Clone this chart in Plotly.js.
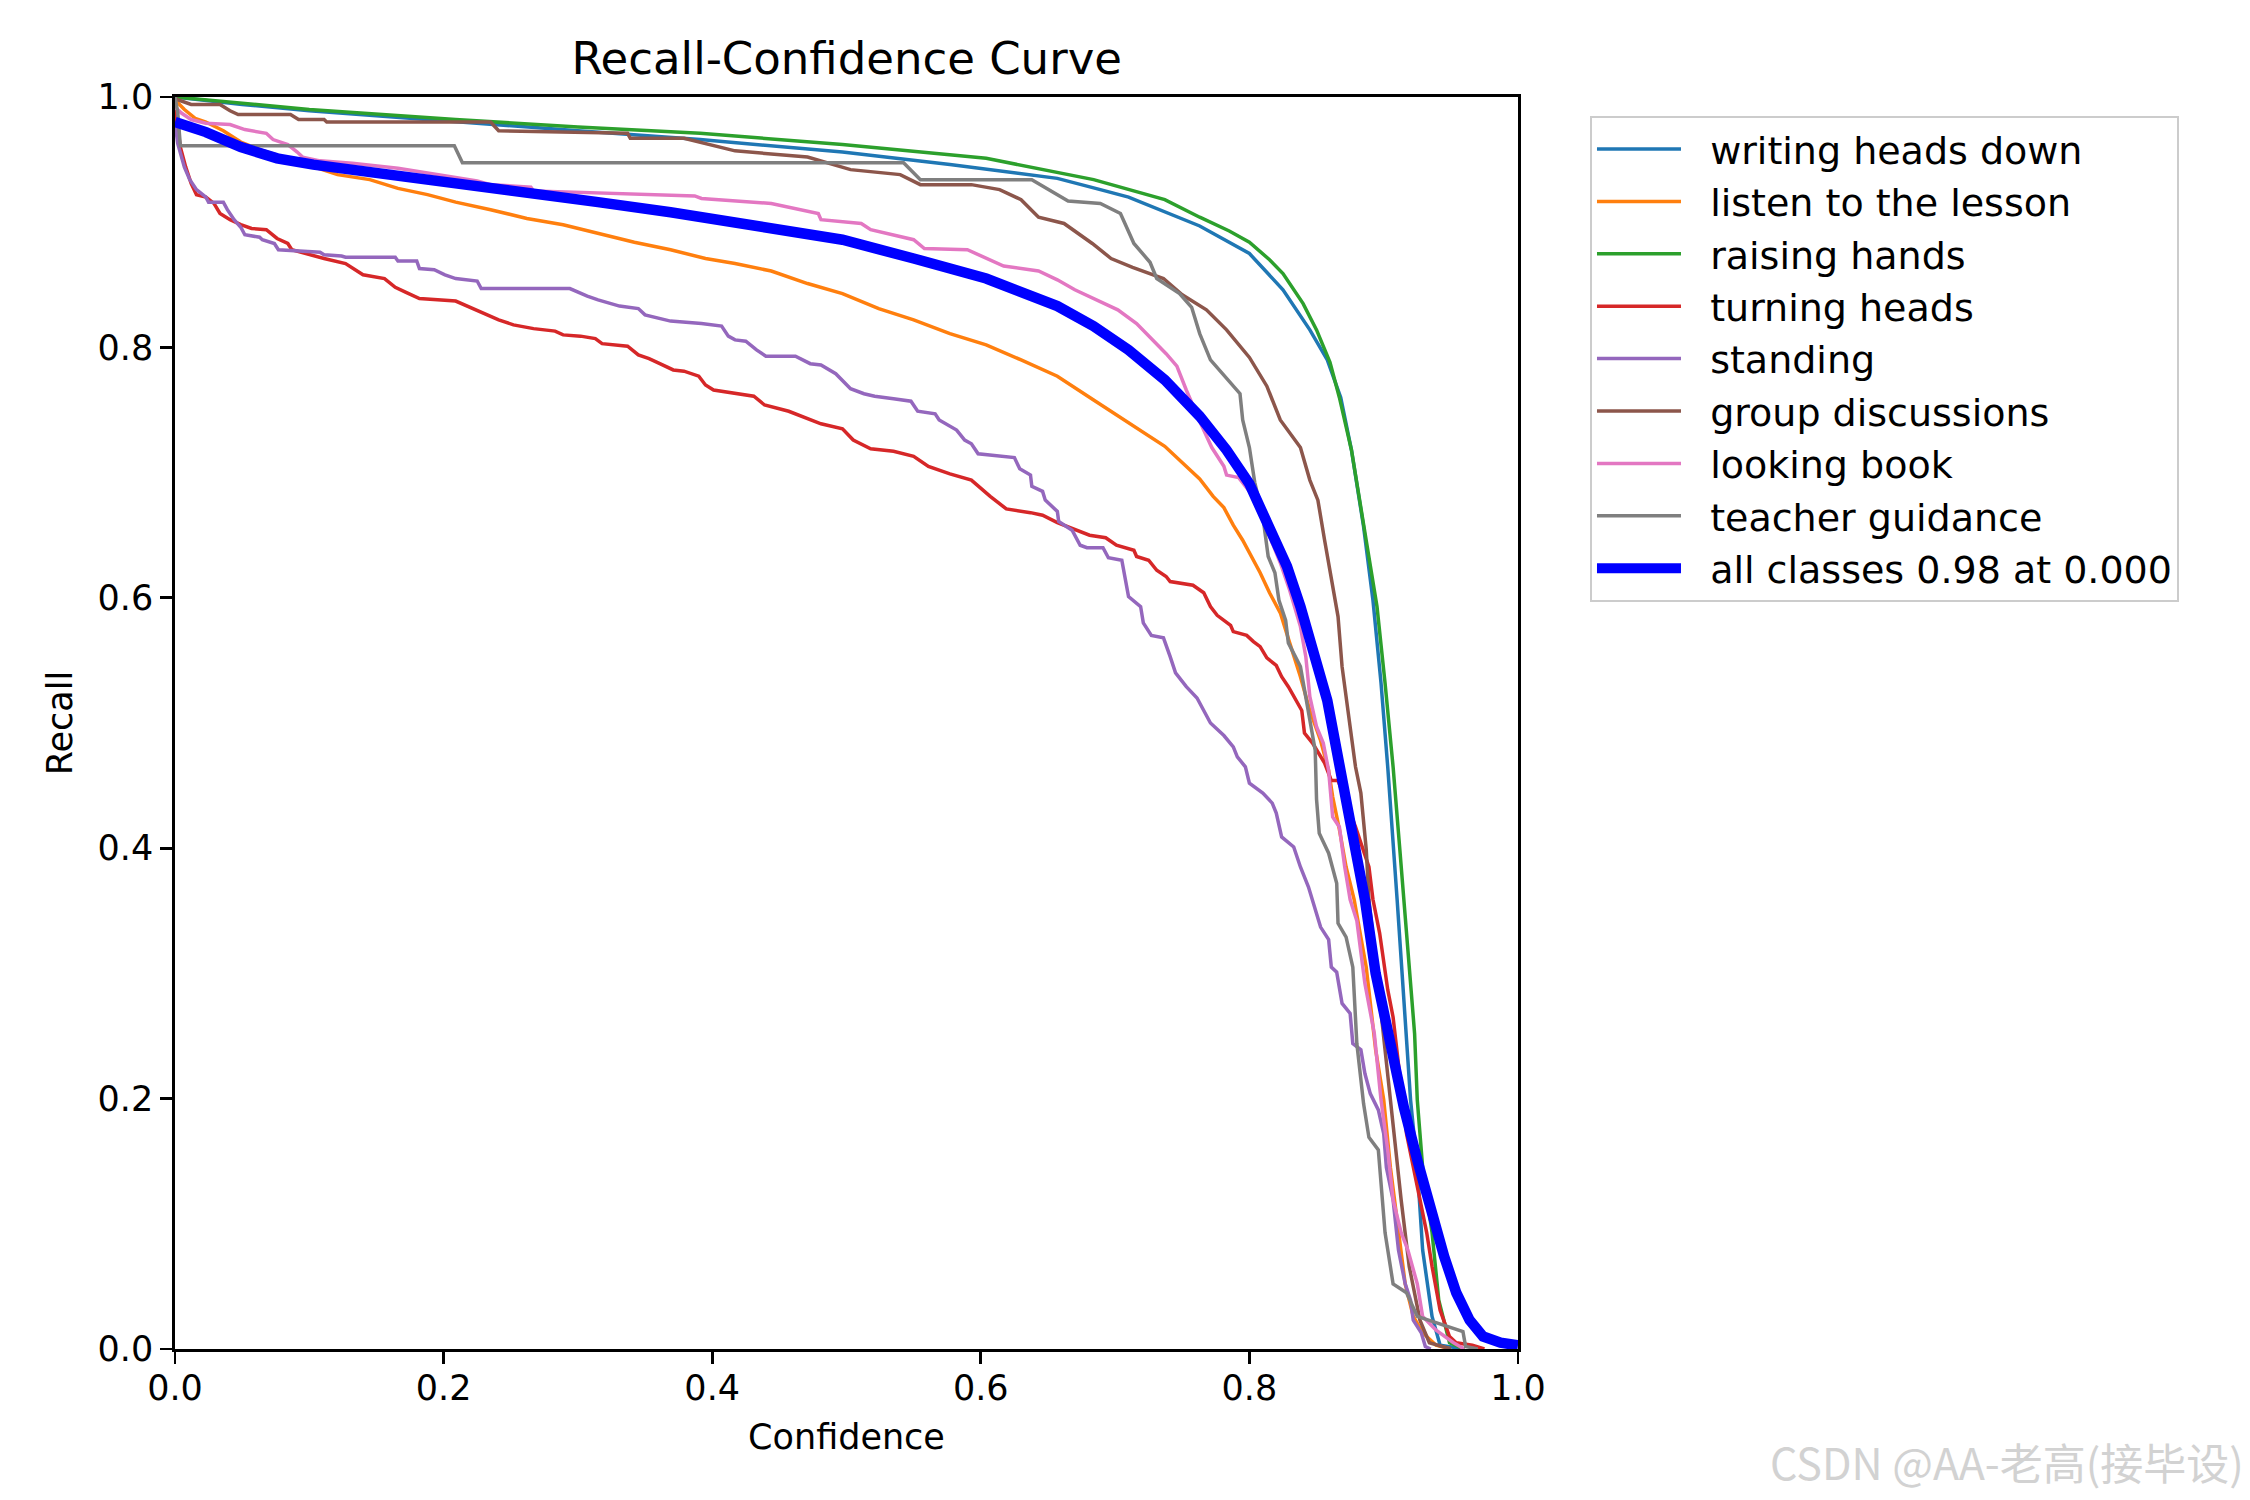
<!DOCTYPE html>
<html>
<head>
<meta charset="utf-8">
<script src="https://cdn.plot.ly/plotly-3.0.1.min.js"></script>
<style>
  html, body { margin: 0; padding: 0; background: #ffffff; }
  #chart { width: 2250px; height: 1500px; }
</style>
</head>
<body>
<div id="chart"></div>
<script>
// Recall vs confidence, one [confidence, recall] list per class
var classNames = ['writing heads down', 'listen to the lesson', 'raising hands', 'turning heads',
  'standing', 'group discussions', 'looking book', 'teacher guidance']
var classColors = ['#1f77b4', '#ff7f0e', '#2ca02c', '#d62728', '#9467bd', '#8c564b', '#e377c2', '#7f7f7f']

var writingHeadsDown = [[0,1.0],[0.05,0.994],[0.1,0.989],[0.209,0.980],[0.3,0.973],[0.391,0.966],[0.497,0.956],
  [0.577,0.946],[0.657,0.935],[0.689,0.926],[0.710,0.920],[0.763,0.897],[0.8,0.875],[0.825,0.846],[0.845,0.814],
  [0.858,0.790],[0.868,0.760],[0.876,0.718],[0.885,0.657],[0.892,0.598],[0.898,0.532],[0.903,0.465],[0.907,0.399],
  [0.910,0.359],[0.915,0.279],[0.920,0.199],[0.925,0.145],[0.929,0.079],[0.936,0.026],[0.942,0.003],[0.96,0]]

var listenToTheLesson = [[0,1.0],[0.0015,0.996],[0.007,0.990],[0.015,0.983],[0.023,0.980],[0.036,0.973],[0.049,0.964],
  [0.063,0.958],[0.081,0.952],[0.103,0.944],[0.121,0.938],[0.145,0.934],[0.166,0.927],[0.188,0.922],[0.209,0.916],
  [0.235,0.910],[0.262,0.903],[0.289,0.898],[0.315,0.891],[0.342,0.884],[0.369,0.878],[0.395,0.871],[0.417,0.867],
  [0.444,0.861],[0.471,0.851],[0.497,0.843],[0.524,0.831],[0.550,0.822],[0.577,0.811],[0.604,0.802],[0.630,0.790],
  [0.657,0.777],[0.684,0.758],[0.710,0.740],[0.737,0.721],[0.763,0.695],[0.773,0.681],[0.781,0.672],[0.788,0.658],
  [0.795,0.646],[0.803,0.630],[0.808,0.620],[0.815,0.604],[0.823,0.588],[0.830,0.564],[0.838,0.537],[0.845,0.510],
  [0.853,0.486],[0.859,0.462],[0.862,0.441],[0.867,0.415],[0.872,0.385],[0.878,0.359],[0.887,0.305],[0.894,0.239],
  [0.900,0.199],[0.905,0.145],[0.911,0.093],[0.916,0.052],[0.922,0.026],[0.929,0.013],[0.939,0.003],[0.95,0]]

var raisingHands = [[0,1.0],[0.1,0.990],[0.209,0.982],[0.3,0.976],[0.391,0.971],[0.497,0.962],[0.604,0.951],
  [0.684,0.934],[0.737,0.918],[0.763,0.904],[0.785,0.893],[0.8,0.884],[0.815,0.870],[0.825,0.859],[0.84,0.835],
  [0.85,0.814],[0.86,0.788],[0.867,0.760],[0.876,0.718],[0.885,0.657],[0.895,0.593],[0.901,0.532],[0.907,0.465],
  [0.912,0.399],[0.915,0.359],[0.923,0.252],[0.925,0.199],[0.929,0.145],[0.936,0.093],[0.941,0.039],[0.949,0.005],[0.96,0]]

var turningHeads = [[0,0.99],[0.002,0.975],[0.004,0.960],[0.008,0.944],[0.012,0.931],[0.016,0.922],[0.023,0.920],
  [0.029,0.915],[0.0335,0.907],[0.041,0.902],[0.049,0.898],[0.057,0.895],[0.068,0.894],[0.076,0.887],[0.084,0.883],
  [0.087,0.878],[0.097,0.875],[0.111,0.871],[0.127,0.867],[0.140,0.858],[0.156,0.855],[0.164,0.848],[0.172,0.844],
  [0.182,0.839],[0.209,0.837],[0.222,0.831],[0.230,0.827],[0.241,0.822],[0.252,0.818],[0.267,0.815],[0.283,0.813],
  [0.289,0.810],[0.302,0.809],[0.313,0.807],[0.318,0.803],[0.337,0.801],[0.345,0.794],[0.353,0.791],[0.361,0.787],
  [0.371,0.782],[0.379,0.781],[0.390,0.777],[0.395,0.770],[0.401,0.766],[0.431,0.761],[0.439,0.754],[0.457,0.749],
  [0.471,0.743],[0.481,0.739],[0.497,0.735],[0.505,0.726],[0.518,0.719],[0.535,0.717],[0.550,0.713],[0.561,0.705],
  [0.577,0.699],[0.593,0.694],[0.607,0.681],[0.619,0.671],[0.637,0.668],[0.646,0.666],[0.657,0.660],[0.669,0.655],
  [0.681,0.650],[0.693,0.648],[0.701,0.642],[0.714,0.638],[0.716,0.633],[0.725,0.630],[0.731,0.622],[0.738,0.617],
  [0.741,0.613],[0.758,0.610],[0.766,0.604],[0.771,0.593],[0.776,0.586],[0.786,0.578],[0.788,0.573],[0.798,0.570],
  [0.803,0.565],[0.808,0.561],[0.813,0.552],[0.820,0.546],[0.824,0.537],[0.829,0.529],[0.835,0.518],[0.839,0.510],
  [0.841,0.492],[0.847,0.484],[0.856,0.468],[0.861,0.454],[0.866,0.454],[0.879,0.417],[0.889,0.385],[0.892,0.359],
  [0.897,0.332],[0.900,0.311],[0.903,0.287],[0.907,0.265],[0.910,0.239],[0.913,0.209],[0.917,0.172],[0.922,0.145],
  [0.927,0.119],[0.932,0.093],[0.936,0.066],[0.942,0.031],[0.949,0.010],[0.954,0.005],[0.966,0.003],[0.975,0]]

var standing = [[0,0.98],[0.002,0.963],[0.007,0.944],[0.011,0.934],[0.016,0.926],[0.023,0.920],[0.025,0.916],
  [0.036,0.916],[0.039,0.910],[0.044,0.902],[0.049,0.896],[0.052,0.890],[0.063,0.888],[0.065,0.886],[0.074,0.883],
  [0.077,0.878],[0.108,0.876],[0.111,0.874],[0.124,0.873],[0.127,0.872],[0.164,0.872],[0.166,0.869],[0.180,0.869],
  [0.182,0.863],[0.193,0.862],[0.201,0.858],[0.209,0.855],[0.225,0.853],[0.228,0.847],[0.294,0.847],[0.307,0.841],
  [0.315,0.838],[0.331,0.833],[0.345,0.831],[0.350,0.826],[0.363,0.823],[0.369,0.821],[0.392,0.819],[0.407,0.817],
  [0.412,0.809],[0.417,0.806],[0.425,0.805],[0.433,0.798],[0.440,0.793],[0.462,0.793],[0.473,0.787],[0.481,0.786],
  [0.492,0.779],[0.503,0.767],[0.513,0.763],[0.521,0.761],[0.535,0.759],[0.548,0.757],[0.553,0.749],[0.566,0.747],
  [0.569,0.742],[0.577,0.737],[0.582,0.734],[0.588,0.726],[0.593,0.723],[0.598,0.715],[0.607,0.714],[0.625,0.712],
  [0.629,0.703],[0.637,0.698],[0.638,0.689],[0.646,0.685],[0.648,0.678],[0.657,0.669],[0.658,0.661],[0.668,0.654],
  [0.674,0.642],[0.679,0.640],[0.691,0.640],[0.695,0.632],[0.705,0.630],[0.707,0.617],[0.710,0.601],[0.719,0.593],
  [0.721,0.580],[0.727,0.570],[0.736,0.568],[0.741,0.553],[0.745,0.540],[0.753,0.529],[0.761,0.520],[0.771,0.500],
  [0.781,0.490],[0.788,0.481],[0.791,0.473],[0.797,0.465],[0.800,0.452],[0.810,0.444],[0.817,0.436],[0.820,0.428],
  [0.824,0.409],[0.833,0.401],[0.838,0.385],[0.844,0.369],[0.847,0.359],[0.851,0.345],[0.853,0.337],[0.859,0.327],
  [0.861,0.305],[0.865,0.301],[0.869,0.276],[0.875,0.268],[0.877,0.244],[0.883,0.239],[0.886,0.220],[0.890,0.204],
  [0.896,0.191],[0.900,0.172],[0.902,0.145],[0.907,0.119],[0.911,0.079],[0.916,0.052],[0.920,0.039],[0.922,0.023],
  [0.926,0.017],[0.928,0.013],[0.931,0.002],[0.935,0]]

var groupDiscussions = [[0,1.0],[0.0015,0.998],[0.012,0.994],[0.0335,0.994],[0.041,0.989],[0.047,0.986],[0.086,0.986],
  [0.092,0.982],[0.111,0.982],[0.113,0.980],[0.235,0.980],[0.241,0.973],[0.337,0.971],[0.339,0.967],[0.379,0.967],
  [0.391,0.964],[0.417,0.957],[0.471,0.952],[0.503,0.942],[0.540,0.938],[0.555,0.930],[0.593,0.930],[0.614,0.926],
  [0.630,0.918],[0.643,0.904],[0.662,0.899],[0.683,0.883],[0.697,0.871],[0.713,0.864],[0.736,0.855],[0.750,0.842],
  [0.768,0.830],[0.783,0.814],[0.80,0.792],[0.813,0.769],[0.823,0.742],[0.838,0.720],[0.845,0.694],[0.851,0.678],
  [0.856,0.646],[0.861,0.617],[0.866,0.585],[0.869,0.545],[0.874,0.505],[0.879,0.465],[0.883,0.444],[0.887,0.399],
  [0.889,0.359],[0.895,0.300],[0.901,0.239],[0.907,0.177],[0.913,0.119],[0.919,0.066],[0.927,0.023],[0.934,0.005],[0.95,0]]

var lookingBook = [[0,0.995],[0.001,0.991],[0.005,0.987],[0.012,0.982],[0.023,0.979],[0.041,0.978],[0.052,0.974],
  [0.068,0.971],[0.073,0.966],[0.084,0.962],[0.091,0.956],[0.095,0.952],[0.108,0.949],[0.132,0.947],[0.166,0.943],
  [0.185,0.940],[0.209,0.936],[0.225,0.933],[0.235,0.930],[0.265,0.928],[0.267,0.925],[0.387,0.921],[0.392,0.919],
  [0.444,0.915],[0.479,0.907],[0.481,0.902],[0.511,0.899],[0.518,0.894],[0.550,0.886],[0.558,0.879],[0.590,0.878],
  [0.604,0.871],[0.617,0.865],[0.643,0.861],[0.657,0.854],[0.670,0.846],[0.684,0.839],[0.702,0.830],[0.716,0.819],
  [0.726,0.808],[0.738,0.795],[0.746,0.785],[0.753,0.766],[0.763,0.741],[0.772,0.720],[0.781,0.705],[0.783,0.698],
  [0.792,0.696],[0.803,0.681],[0.812,0.657],[0.823,0.628],[0.830,0.606],[0.838,0.577],[0.842,0.553],[0.845,0.521],
  [0.850,0.497],[0.855,0.484],[0.859,0.462],[0.861,0.439],[0.862,0.425],[0.867,0.417],[0.871,0.385],[0.875,0.359],
  [0.880,0.342],[0.886,0.292],[0.893,0.252],[0.898,0.199],[0.903,0.159],[0.907,0.119],[0.913,0.093],[0.918,0.079],
  [0.925,0.052],[0.929,0.026],[0.939,0.015],[0.952,0.005],[0.96,0]]

var teacherGuidance = [[0,1.0],[0.002,0.988],[0.004,0.961],[0.208,0.961],[0.214,0.9475],[0.5425,0.9475],[0.555,0.934],
  [0.638,0.934],[0.665,0.917],[0.689,0.915],[0.704,0.907],[0.714,0.883],[0.726,0.868],[0.731,0.855],[0.748,0.843],
  [0.757,0.832],[0.763,0.811],[0.771,0.790],[0.793,0.763],[0.795,0.742],[0.80,0.720],[0.804,0.692],[0.810,0.665],
  [0.814,0.633],[0.819,0.620],[0.822,0.598],[0.827,0.582],[0.829,0.564],[0.838,0.545],[0.843,0.516],[0.847,0.492],
  [0.849,0.478],[0.850,0.439],[0.852,0.412],[0.859,0.396],[0.865,0.372],[0.866,0.340],[0.872,0.329],[0.877,0.305],
  [0.880,0.244],[0.885,0.196],[0.889,0.169],[0.896,0.159],[0.901,0.093],[0.907,0.052],[0.917,0.045],[0.925,0.026],
  [0.959,0.014],[0.961,0.002],[0.97,0]]

var allClasses = [[0,0.980],[0.023,0.972],[0.049,0.960],[0.076,0.951],[0.103,0.946],[0.156,0.939],[0.209,0.932],
  [0.262,0.923],[0.315,0.916],[0.369,0.908],[0.413,0.900],[0.444,0.896],[0.497,0.886],[0.550,0.871],[0.604,0.855],
  [0.657,0.833],[0.684,0.817],[0.710,0.798],[0.737,0.774],[0.763,0.745],[0.783,0.718],[0.800,0.691],[0.815,0.657],
  [0.828,0.625],[0.838,0.593],[0.847,0.558],[0.858,0.518],[0.865,0.478],[0.872,0.439],[0.879,0.399],[0.886,0.359],
  [0.894,0.300],[0.905,0.239],[0.915,0.193],[0.925,0.151],[0.935,0.111],[0.945,0.074],[0.954,0.045],[0.964,0.023],
  [0.974,0.010],[0.987,0.005],[1.0,0.003]]
var allLabel = 'all classes 0.98 at 0.000'

var xTicks = [0, 0.2, 0.4, 0.6, 0.8, 1.0]
var yTicks = [0, 0.2, 0.4, 0.6, 0.8, 1.0]
var tickText = ['0.0', '0.2', '0.4', '0.6', '0.8', '1.0']

var classCurves = [writingHeadsDown, listenToTheLesson, raisingHands, turningHeads,
  standing, groupDiscussions, lookingBook, teacherGuidance]

var font = 'DejaVu Sans, Verdana, sans-serif'
var gap = '\u00a0\u00a0'  // room between legend line and label, like matplotlib's handletextpad

// one thin line per class, then the thick mean curve on top
var traces = []
for (var i = 0; i < classCurves.length; i++) {
  traces.push({
    x: classCurves[i].map(function (p) { return p[0] }),
    y: classCurves[i].map(function (p) { return p[1] }),
    type: 'scatter', mode: 'lines', name: gap + classNames[i],
    line: {color: classColors[i], width: 3.5}
  })
}
traces.push({
  x: allClasses.map(function (p) { return p[0] }),
  y: allClasses.map(function (p) { return p[1] }),
  type: 'scatter', mode: 'lines', name: gap + allLabel,
  line: {color: '#0000ff', width: 10.5}
})

var axisStyle = {
  range: [0, 1],
  showgrid: false,
  zeroline: false,
  showline: true,
  mirror: true,
  linecolor: '#000000',
  linewidth: 2.8,
  ticks: 'outside',
  ticklen: 12,
  tickwidth: 2.8,
  tickcolor: '#000000',
  tickvals: xTicks,
  ticktext: tickText,
  tickfont: {family: font, size: 35, color: '#000000'}
}

var layout = {
  width: 2250,
  height: 1500,
  paper_bgcolor: '#ffffff',
  plot_bgcolor: '#ffffff',
  margin: {l: 175, r: 732, t: 97, b: 151},
  showlegend: true,
  title: {
    text: 'Recall-Confidence Curve',
    font: {family: font, size: 45, color: '#000000'},
    x: 0.3763, xanchor: 'center', xref: 'container',
    y: 0.961, yanchor: 'middle', yref: 'container'
  },
  xaxis: Object.assign({}, axisStyle, {
    ticklabelstandoff: -6,
    title: {text: 'Confidence', font: {family: font, size: 35, color: '#000000'}, standoff: 18}
  }),
  yaxis: Object.assign({}, axisStyle, {
    tickvals: yTicks,
    title: {text: 'Recall', font: {family: font, size: 35, color: '#000000'}, standoff: 15}
  }),
  legend: {
    x: 1.0536, xanchor: 'left',
    y: 0.985, yanchor: 'top',
    bgcolor: 'rgba(255,255,255,0.8)',
    bordercolor: '#cccccc',
    borderwidth: 2,
    itemwidth: 84,
    font: {family: font, size: 38, color: '#000000'}
  },
  annotations: [{
    text: 'CSDN @AA-老高(接毕设)',
    xref: 'paper', yref: 'paper',
    x: 1.542, xanchor: 'right',
    y: -0.0895, yanchor: 'middle',
    showarrow: false,
    font: {family: 'Noto Sans CJK SC, sans-serif', size: 43, color: '#d2d2d2'}
  }]
}

Plotly.newPlot('chart', traces, layout, {staticPlot: true})
</script>
</body>
</html>
